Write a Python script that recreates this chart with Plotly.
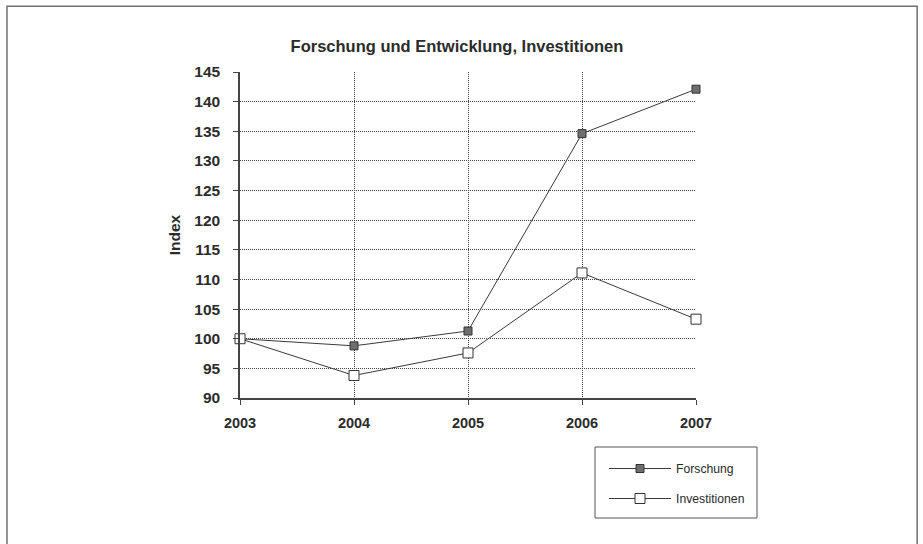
import plotly.graph_objects as go

# Index values (2003 = 100)
years = [2003, 2004, 2005, 2006, 2007]
forschung = [100.0, 98.8, 101.3, 134.6, 142.1]
investitionen = [100.0, 93.8, 97.6, 111.1, 103.3]

y_ticks = [90, 95, 100, 105, 110, 115, 120, 125, 130, 135, 140, 145]

FONT = "Liberation Sans, Arial, sans-serif"
INK = "#2b2b2b"

fig = go.Figure()

fig.add_trace(go.Scatter(
    x=years, y=forschung, name="Forschung", mode="lines+markers",
    legendgroup="f", cliponaxis=False,
    line=dict(color="#3a3a3a", width=1),
    marker=dict(symbol="square", size=8, color="#6e6e6e",
                line=dict(color="#333333", width=1)),
))
fig.add_trace(go.Scatter(
    x=years, y=investitionen, name="Investitionen", mode="lines+markers",
    legendgroup="i", cliponaxis=False,
    line=dict(color="#3a3a3a", width=1),
    marker=dict(symbol="square", size=10, color="white",
                line=dict(color="#333333", width=1)),
))

# outer frame around the whole chart
fig.add_shape(type="rect", xref="paper", yref="paper",
              x0=-0.511, x1=1.485, y0=-0.55, y1=1.202,
              line=dict(color="#707070", width=1.5), layer="below")
# legend box
fig.add_shape(type="rect", xref="paper", yref="paper",
              x0=(595 - 240) / 456, x1=(757 - 240) / 456,
              y0=(398 - 518) / 326, y1=(398 - 447) / 326,
              line=dict(color="#555555", width=1), layer="below")

fig.update_layout(
    width=923, height=544,
    margin=dict(l=240, r=227, t=72, b=146),
    paper_bgcolor="white", plot_bgcolor="white",
    font=dict(family=FONT, color=INK),
    title=dict(text="Forschung und Entwicklung, Investitionen",
               x=457 / 923, xanchor="center", xref="container",
               y=1 - 46 / 544, yanchor="middle", yref="container",
               font=dict(size=16.5, weight="bold", color=INK)),
    showlegend=True,
    legend=dict(x=(604 - 240) / 456, xanchor="left",
                y=(398 - 454) / 326, yanchor="top",
                borderwidth=0, bgcolor="rgba(0,0,0,0)",
                font=dict(size=12.2, color=INK),
                tracegroupgap=11, itemwidth=62,
                traceorder="grouped"),
    xaxis=dict(range=[2003, 2007], tickvals=years,
               tickfont=dict(size=14.5, weight="bold", color=INK),
               showgrid=True, gridcolor="#444444", griddash="1px,1px", gridwidth=1,
               showline=True, linecolor="#444444", linewidth=1.5,
               ticks="outside", ticklen=5, tickcolor="#444444",
               ticklabelstandoff=6, zeroline=False, fixedrange=True),
    yaxis=dict(range=[90, 145], tickvals=y_ticks,
               tickfont=dict(size=15.5, weight="bold", color=INK),
               showgrid=True, gridcolor="#444444", griddash="1px,1px", gridwidth=1,
               showline=True, linecolor="#444444", linewidth=1.5,
               ticks="outside", ticklen=5, tickcolor="#444444",
               ticklabelstandoff=10, zeroline=False, fixedrange=True,
               title=dict(text="Index", standoff=10,
                          font=dict(size=15.5, weight="bold", color=INK))),
)

fig.write_html("out.html")
